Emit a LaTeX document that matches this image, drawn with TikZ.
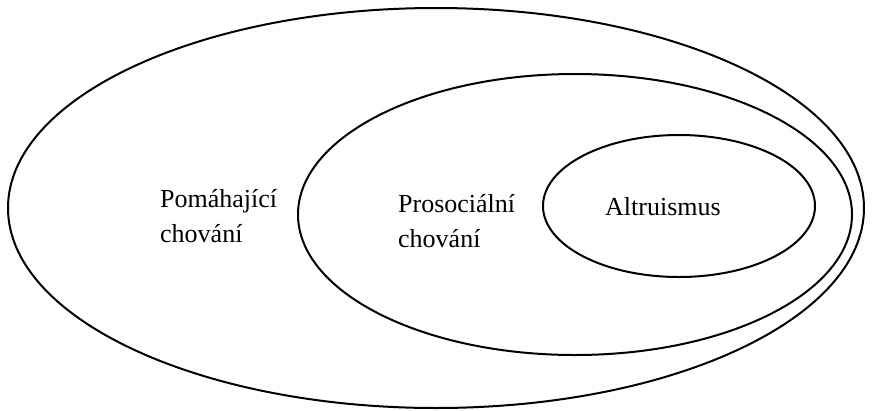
\documentclass[tikz,border=0pt]{standalone}
\usepackage{fontspec}
\setmainfont{Liberation Serif}
\begin{document}
\begin{tikzpicture}[x=1pt,y=-1pt,
  ring/.style={draw=black,line width=2pt},
  lbl/.style={inner sep=0pt,font=\fontsize{26}{35}\selectfont,align=left}]
\useasboundingbox (0,0) rectangle (873,410);
\draw[ring] (436,208) ellipse [x radius=428, y radius=200];
\draw[ring] (575,214.5) ellipse [x radius=277, y radius=140.5];
\draw[ring] (679,206) ellipse [x radius=136, y radius=71];
\node[lbl,anchor=base west] (pom) at (160,242) {Pomáhající\\chování};
\node[lbl,anchor=base west] (pro) at (398,247) {Prosociální\\chování};
\node[lbl,anchor=base west] (alt) at (605,215) {Altruismus};
\end{tikzpicture}
\end{document}
